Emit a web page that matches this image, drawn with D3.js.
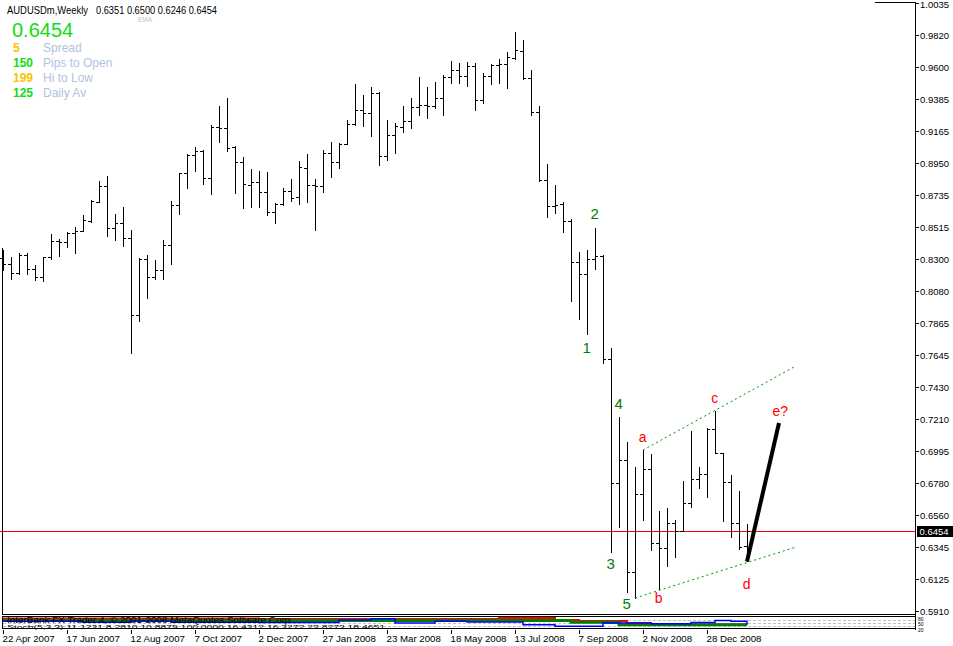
<!DOCTYPE html>
<html><head><meta charset="utf-8">
<script src="https://cdn.jsdelivr.net/npm/d3@7/dist/d3.min.js"></script>
<style>html,body{margin:0;padding:0;background:#fff;overflow:hidden}svg{display:block}</style>
</head><body>
<svg id="c" width="953" height="646"></svg>
<script>
// ---------- DATA (weekly AUDUSD bars, index 0 = week of 22 Apr 2007) ----------
const opens = [0.8305,0.8264,0.8203,0.8325,0.8230,0.8176,0.8312,0.8420,0.8414,0.8475,
0.8488,0.8556,0.8685,0.8794,0.8509,0.8542,0.8441,0.7918,0.8298,0.8176,
0.8224,0.8393,0.8665,0.8882,0.9004,0.9031,0.8848,0.9194,0.9187,0.9058,
0.8956,0.8800,0.8821,0.8753,0.8617,0.8671,0.8760,0.8719,0.8916,0.8800,
0.8794,0.9017,0.8956,0.9078,0.9214,0.9309,0.9289,0.9424,0.8997,0.9139,
0.9194,0.9235,0.9329,0.9343,0.9336,0.9391,0.9533,0.9581,0.9540,0.9608,
0.9377,0.9540,0.9614,0.9621,0.9662,0.9709,0.9526,0.9296,0.8834,0.8658,
0.8671,0.8556,0.8278,0.8197,0.8298,0.8319,0.7620,0.6779,0.6935,0.6175,
0.6704,0.6874,0.6372,0.6338,0.6507,0.6453,0.6643,0.6806,0.6840,0.7145,
0.6982,0.6785,0.6507,0.6351];
const highs = [0.8359,0.8312,0.8339,0.8339,0.8258,0.8312,0.8468,0.8434,0.8481,0.8515,
0.8597,0.8699,0.8827,0.8861,0.8604,0.8651,0.8495,0.8305,0.8325,0.8291,
0.8427,0.8692,0.8882,0.9011,0.9058,0.9038,0.9207,0.9336,0.9391,0.9065,
0.8990,0.8909,0.8895,0.8889,0.8678,0.8780,0.8841,0.8963,0.9011,0.8841,
0.9038,0.9092,0.9085,0.9241,0.9486,0.9411,0.9465,0.9431,0.9241,0.9221,
0.9336,0.9391,0.9533,0.9465,0.9499,0.9547,0.9642,0.9628,0.9635,0.9628,
0.9560,0.9621,0.9655,0.9703,0.9838,0.9784,0.9581,0.9336,0.8943,0.8800,
0.8685,0.8570,0.8346,0.8359,0.8509,0.8322,0.7694,0.7226,0.7057,0.6887,
0.7002,0.6975,0.6589,0.6609,0.6528,0.6792,0.7131,0.6887,0.7152,0.7267,
0.6985,0.6833,0.6724,0.6500];
const lows = [0.8224,0.8163,0.8197,0.8197,0.8156,0.8149,0.8298,0.8319,0.8380,0.8339,
0.8488,0.8549,0.8685,0.8454,0.8427,0.8386,0.7661,0.7878,0.8034,0.8163,
0.8163,0.8264,0.8604,0.8780,0.8895,0.8807,0.8739,0.9092,0.9031,0.8746,
0.8644,0.8651,0.8651,0.8597,0.8542,0.8665,0.8692,0.8671,0.8685,0.8495,
0.8753,0.8855,0.8916,0.9078,0.9207,0.9201,0.9133,0.8936,0.8970,0.9017,
0.9160,0.9187,0.9275,0.9255,0.9323,0.9275,0.9492,0.9492,0.9472,0.9309,
0.9357,0.9486,0.9492,0.9458,0.9655,0.9519,0.9275,0.8827,0.8583,0.8610,
0.8481,0.8013,0.7891,0.7789,0.8230,0.7593,0.6310,0.6480,0.6039,0.5998,
0.6528,0.6324,0.6059,0.6216,0.6277,0.6453,0.6616,0.6745,0.6684,0.6982,
0.6521,0.6412,0.6331,0.6246];
const closes = [0.8264,0.8203,0.8325,0.8230,0.8176,0.8312,0.8420,0.8414,0.8475,0.8488,
0.8563,0.8692,0.8794,0.8509,0.8542,0.8441,0.7918,0.8298,0.8176,0.8224,
0.8393,0.8665,0.8882,0.9004,0.9031,0.8848,0.9194,0.9187,0.9051,0.8956,
0.8807,0.8821,0.8753,0.8617,0.8671,0.8760,0.8712,0.8922,0.8800,0.8794,
0.9017,0.8956,0.9078,0.9214,0.9309,0.9289,0.9424,0.8997,0.9139,0.9201,
0.9235,0.9329,0.9343,0.9336,0.9391,0.9533,0.9581,0.9540,0.9608,0.9377,
0.9540,0.9614,0.9621,0.9669,0.9716,0.9526,0.9296,0.8834,0.8658,0.8665,
0.8556,0.8278,0.8197,0.8298,0.8319,0.7620,0.6779,0.6935,0.6175,0.6704,
0.6874,0.6372,0.6338,0.6507,0.6453,0.6643,0.6806,0.6840,0.7145,0.6982,
0.6785,0.6507,0.6344,0.6454];

const priceTicks = ["1.0035","0.9820","0.9600","0.9385","0.9165","0.8950","0.8735","0.8515","0.8300","0.8080",
"0.7865","0.7645","0.7430","0.7210","0.6995","0.6780","0.6560","0.6345","0.6125","0.5910"];
const dateLabels = ["22 Apr 2007","17 Jun 2007","12 Aug 2007","7 Oct 2007","2 Dec 2007","27 Jan 2008",
"23 Mar 2008","18 May 2008","13 Jul 2008","7 Sep 2008","2 Nov 2008","28 Dec 2008"];
const dateIdx = [0,8,16,24,32,40,48,56,64,72,80,88];

const lastPrice = 0.6454;
const headerSymbol = "AUDUSDm,Weekly";
const headerOHLC = "0.6351 0.6500 0.6246 0.6454";
const infoValues = ["5","150","199","125"];
const infoNames = ["Spread","Pips to Open","Hi to Low","Daily Av"];
const infoColors = ["#f5c400","#11dd11","#f5c400","#11dd11"];

// Elliott wave annotations (bar index, price)
const waveLabels = [
  {t:"1", i:72.9, p:0.7701, c:"#008000"},
  {t:"2", i:73.9, p:0.8604, c:"#008000"},
  {t:"3", i:75.9, p:0.6229, c:"#008000"},
  {t:"4", i:76.9, p:0.7321, c:"#008000"},
  {t:"5", i:77.9, p:0.5958, c:"#008000"},
  {t:"a", i:79.9, p:0.7091, c:"#ff0000"},
  {t:"b", i:81.9, p:0.5998, c:"#ff0000"},
  {t:"c", i:88.9, p:0.7355, c:"#ff0000"},
  {t:"d", i:92.9, p:0.6093, c:"#ff0000"},
  {t:"e?", i:97.1, p:0.7267, c:"#ff0000"}
];
const upperChannel = [[80,0.7002],[99.1,0.7572]];
const lowerChannel = [[79,0.5998],[99,0.6342]];
const projection = [[93,0.6246],[97,0.7186]];

// sub-window oscillator (0..100), step values by bar index
const redIdx = [0,32,62,69,72,78,81,93];
const redVal = [94,89,99,81,69,50,36,36];
const greenIdx = [0,71,77,93];
const greenVal = [75,58,33,33];
const blueIdx = [0,10,16,21,32,42,46,49,54,58,65,69,72,75,81,86,89,91,93];
const blueVal = [67,58,70,58,54,79,92,50,67,61,33,17,17,50,42,54,75,67,33];
const oscLevels = [20,50,80];

// ---------- DRAW ----------
const svg = d3.select('#c');
const x = d3.scaleLinear().domain([0,93]).range([3,747]);
const y = d3.scaleLinear().domain([0.5910,1.0035]).range([611,3]);
const yo = d3.scaleLinear().domain([0,100]).range([628,618]);
const FONT = "'Liberation Sans', Arial, sans-serif";
const col = i => Math.round(x(i));
const ry = v => Math.round(y(v));

// current price line (red)
const yl = ry(lastPrice);
svg.append('rect').attr('x',0).attr('width',915).attr('y',yl).attr('height',1).attr('fill','#ff0000');

// OHLC bars
const bars = svg.append('g').attr('stroke','#000').attr('stroke-width',1).attr('shape-rendering','crispEdges');
d3.range(opens.length).forEach(i=>{
  const c = col(i);
  bars.append('line').attr('x1',c+0.5).attr('x2',c+0.5).attr('y1',ry(highs[i])).attr('y2',ry(lows[i])+1);
  const yo_ = ry(opens[i])+0.5, yc = ry(closes[i])+0.5;
  bars.append('line').attr('x1',c-3).attr('x2',c).attr('y1',yo_).attr('y2',yo_);
  bars.append('line').attr('x1',c+1).attr('x2',c+3).attr('y1',yc).attr('y2',yc);
});

// channel lines
const ln = d3.line().x(d=>x(d[0])).y(d=>y(d[1]));
[upperChannel, lowerChannel].forEach(seg=>{
  svg.append('path').attr('d',ln(seg)).attr('fill','none').attr('stroke','#009000')
    .attr('stroke-width',1).attr('stroke-dasharray','2,3');
});
svg.append('path').attr('d',ln(projection)).attr('fill','none').attr('stroke','#000').attr('stroke-width',4);

// wave labels
svg.selectAll('text.wave').data(waveLabels).enter().append('text')
  .attr('x',d=>x(d.i)+0.5).attr('y',d=>y(d.p)).attr('text-anchor','middle')
  .attr('dominant-baseline','central').attr('fill',d=>d.c)
  .attr('font-family',FONT).attr('font-size',d=>/\d/.test(d.t)?15:14).text(d=>d.t);

// frame pieces
const frame = svg.append('g').attr('stroke','#000').attr('stroke-width',1).attr('shape-rendering','crispEdges');
frame.append('line').attr('x1',915.5).attr('x2',915.5).attr('y1',2).attr('y2',630);
frame.append('line').attr('x1',875).attr('x2',916).attr('y1',2.5).attr('y2',2.5);
frame.append('line').attr('x1',2.5).attr('x2',2.5).attr('y1',248).attr('y2',615);
frame.append('line').attr('x1',2).attr('x2',916).attr('y1',614.5).attr('y2',614.5);
frame.append('rect').attr('x',2.5).attr('y',616.5).attr('width',913).attr('height',12).attr('fill','none');

// price axis ticks and labels
priceTicks.forEach(t=>{
  const yy = ry(+t)+0.5;
  frame.append('line').attr('x1',916).attr('x2',919).attr('y1',yy).attr('y2',yy);
  svg.append('text').attr('x',920).attr('y',Math.max(yy,4.5)).attr('dominant-baseline','central')
    .attr('font-family',FONT).attr('font-size',9.5).attr('fill','#000').text(t);
});
// current price box
svg.append('rect').attr('x',917).attr('y',yl-5).attr('width',36).attr('height',11).attr('fill','#000');
svg.append('text').attr('x',919.5).attr('y',yl+0.5).attr('dominant-baseline','central')
  .attr('font-family',FONT).attr('font-size',9.5).attr('fill','#fff').text(lastPrice.toFixed(4));

// date axis
dateLabels.forEach((t,k)=>{
  const c = col(dateIdx[k])+0.5;
  frame.append('line').attr('x1',c).attr('x2',c).attr('y1',630).attr('y2',634);
  svg.append('text').attr('x',c-1).attr('y',642).attr('font-family',FONT).attr('font-size',9.7)
    .attr('fill','#000').text(t);
});

// oscillator sub-window
const sub = svg.append('g');
oscLevels.forEach(v=>{
  sub.append('line').attr('x1',3).attr('x2',915).attr('y1',Math.round(yo(v))+0.5).attr('y2',Math.round(yo(v))+0.5)
    .attr('stroke','#c0c0c0').attr('stroke-dasharray','3,2').attr('shape-rendering','crispEdges');
});
const sl = d3.line().x(d=>x(d[0])).y(d=>yo(d[1])).curve(d3.curveStepAfter);
sub.append('path').attr('d',sl(redIdx.map((v,k)=>[v,redVal[k]]))).attr('fill','none').attr('stroke','#ff0000').attr('stroke-width',2);
sub.append('path').attr('d',sl(greenIdx.map((v,k)=>[v,greenVal[k]]))).attr('fill','none').attr('stroke','#008000').attr('stroke-width',3);
sub.append('path').attr('d',sl(blueIdx.map((v,k)=>[v,blueVal[k]]))).attr('fill','none').attr('stroke','#0000ff').attr('stroke-width',1.5);
sub.append('text').attr('x',7).attr('y',622.5).attr('font-family',FONT).attr('font-size',8.5).attr('fill','#000')
  .attr('textLength',286).attr('lengthAdjust','spacingAndGlyphs')
  .text("InterBank FX Trader 4, \u00a9 2001-2008 MetaQuotes Software Corp.");
sub.append('text').attr('x',7).attr('y',628.5).attr('font-family',FONT).attr('font-size',6).attr('fill','#000')
  .attr('textLength',378).attr('lengthAdjust','spacingAndGlyphs')
  .text("Stoch(5,3,3) 11.1231 8.2810 10.8879 100.0000 16.4312 16.3272 23.8273 18.4651");
[["80",620.5],["50",626],["20",631.5]].forEach(d=>{
  svg.append('text').attr('x',918).attr('y',d[1]).attr('font-family',FONT).attr('font-size',5).attr('fill','#000').text(d[0]);
});

// header & info panel
svg.append('text').attr('x',7).attr('y',14).attr('font-family',FONT).attr('font-size',11).attr('fill','#000')
  .attr('textLength',81).attr('lengthAdjust','spacingAndGlyphs').text(headerSymbol);
svg.append('text').attr('x',96).attr('y',14).attr('font-family',FONT).attr('font-size',11).attr('fill','#000')
  .attr('textLength',121).attr('lengthAdjust','spacingAndGlyphs').text(headerOHLC);
svg.append('text').attr('x',138).attr('y',22).attr('font-family',FONT).attr('font-size',6.5).attr('fill','#b0c4de').text("EMA");
svg.append('text').attr('x',12).attr('y',36.5).attr('font-family',FONT).attr('font-size',20).attr('fill','#11dd11').text(lastPrice.toFixed(4));
infoValues.forEach((v,k)=>{
  const yy = 52 + k*15;
  svg.append('text').attr('x',13).attr('y',yy).attr('font-family',FONT).attr('font-size',12).attr('font-weight','bold')
    .attr('fill',infoColors[k]).text(v);
  svg.append('text').attr('x',43).attr('y',yy).attr('font-family',FONT).attr('font-size',12)
    .attr('fill','#b0c4de').text(infoNames[k]);
});
</script>
</body></html>
